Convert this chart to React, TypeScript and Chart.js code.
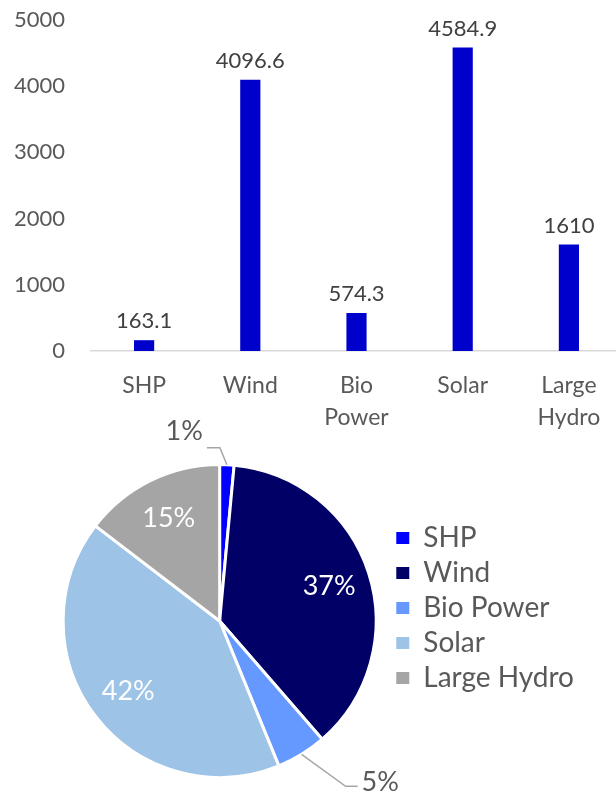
import React, { useEffect, useRef } from 'react';
import { Chart, registerables } from 'chart.js';

Chart.register(...registerables);

// ---- data ----
const categories = ['SHP', 'Wind', 'Bio Power', 'Solar', 'Large Hydro'];
const axisLabels = [['SHP'], ['Wind'], ['Bio', 'Power'], ['Solar'], ['Large', 'Hydro']];
const capacity = [163.1, 4096.6, 574.3, 4584.9, 1610];
const yTicks = [0, 1000, 2000, 3000, 4000, 5000];
const pieColors = ['#0000FF', '#000066', '#6699FF', '#9DC3E6', '#A5A5A5'];
const barColor = '#0000CC';

const FONT = 'Lato';

// leader settings for labels drawn outside the pie: [elbow dx, elbow dy, horizontal length, text dy]
const outsideLeaders: Record<string, [number, number, number, number]> = {
  'SHP': [-7, -17, -13, -16],
  'Bio Power': [44, 32, 12, -4],
};

const barLabels = {
  id: 'barLabels',
  afterDatasetsDraw(chart: any) {
    const ctx = chart.ctx;
    const meta = chart.getDatasetMeta(0);
    ctx.save();
    ctx.font = `22px ${FONT}`;
    ctx.fillStyle = '#404040';
    ctx.textAlign = 'center';
    ctx.textBaseline = 'middle';
    meta.data.forEach((bar: any, i: number) => {
      ctx.fillText(String(capacity[i]), bar.x, bar.y - 19);
    });
    ctx.restore();
  },
};

const pieLabels = {
  id: 'pieLabels',
  afterDatasetsDraw(chart: any) {
    const ctx = chart.ctx;
    const meta = chart.getDatasetMeta(0);
    const total = capacity.reduce((a, b) => a + b, 0);
    ctx.save();
    ctx.font = `27px ${FONT}`;
    meta.data.forEach((arc: any, i: number) => {
      const p = arc.getProps(['x', 'y', 'startAngle', 'endAngle', 'outerRadius'], true);
      const mid = (p.startAngle + p.endAngle) / 2;
      const txt = Math.round((capacity[i] / total) * 100) + '%';
      const lead = outsideLeaders[categories[i]];
      if (!lead) {
        const r = p.outerRadius * 0.735;
        ctx.fillStyle = '#FFFFFF';
        ctx.textAlign = 'center';
        ctx.textBaseline = 'middle';
        ctx.fillText(txt, p.x + Math.cos(mid) * r, p.y + Math.sin(mid) * r);
      } else {
        const sx = p.x + Math.cos(mid) * p.outerRadius;
        const sy = p.y + Math.sin(mid) * p.outerRadius;
        const ex = sx + lead[0];
        const ey = sy + lead[1];
        const hx = ex + lead[2];
        ctx.strokeStyle = '#A6A6A6';
        ctx.lineWidth = 1.5;
        ctx.beginPath();
        ctx.moveTo(sx, sy);
        ctx.lineTo(ex, ey);
        ctx.lineTo(hx, ey);
        ctx.stroke();
        ctx.fillStyle = '#595959';
        ctx.textBaseline = 'middle';
        if (lead[2] < 0) {
          ctx.textAlign = 'right';
          ctx.fillText(txt, hx - 4, ey + lead[3]);
        } else {
          ctx.textAlign = 'left';
          ctx.fillText(txt, hx + 4, ey + lead[3]);
        }
      }
    });
    ctx.restore();
  },
};

const legendShift = {
  id: 'legendShift',
  afterLayout(chart: any) {
    const lg = chart.legend;
    if (lg) {
      lg.top -= 13;
      lg.bottom -= 13;
    }
  },
};

export default function App() {
  const barRef = useRef<HTMLCanvasElement>(null);
  const pieRef = useRef<HTMLCanvasElement>(null);

  useEffect(() => {
    const bar = new Chart(barRef.current as HTMLCanvasElement, {
      type: 'bar',
      data: {
        labels: axisLabels as any,
        datasets: [
          {
            data: capacity,
            backgroundColor: barColor,
            categoryPercentage: 1,
            barPercentage: 0.19,
          },
        ],
      },
      options: {
        animation: false,
        responsive: false,
        layout: { padding: { top: 20, left: 0, right: 0, bottom: 0 } },
        plugins: { legend: { display: false }, tooltip: { enabled: false } },
        scales: {
          x: {
            grid: { display: false, drawTicks: false },
            border: { display: true, color: '#D9D9D9', width: 1.5 },
            ticks: {
              color: '#595959',
              font: { family: FONT, size: 23, lineHeight: 1.39 },
              padding: 19,
              maxRotation: 0,
              autoSkip: false,
            },
            afterFit: (s: any) => {
              s.height = 83;
              s.paddingLeft = 0;
              s.paddingRight = 0;
            },
          },
          y: {
            min: yTicks[0],
            max: yTicks[yTicks.length - 1],
            afterBuildTicks: (s: any) => {
              s.ticks = yTicks.map((v) => ({ value: v }));
            },
            grid: { display: false, drawTicks: false },
            border: { display: false },
            ticks: {
              color: '#595959',
              font: { family: FONT, size: 22 },
              padding: 26,
              callback: (v: any) => String(v),
            },
            afterFit: (s: any) => {
              s.width = 91;
              s.paddingTop = 0;
              s.paddingBottom = 0;
            },
          },
        },
      },
      plugins: [barLabels],
    });

    const pie = new Chart(pieRef.current as HTMLCanvasElement, {
      type: 'pie',
      data: {
        labels: categories,
        datasets: [
          {
            data: capacity,
            backgroundColor: pieColors,
            borderColor: '#FFFFFF',
            borderWidth: 3,
          },
        ],
      },
      options: {
        animation: false,
        responsive: false,
        layout: { padding: { top: 63, bottom: 15, left: 50, right: 32 } },
        plugins: {
          tooltip: { enabled: false },
          legend: {
            position: 'right',
            labels: {
              boxWidth: 13,
              boxHeight: 12,
              padding: 7,
              color: '#595959',
              font: { family: FONT, size: 28 },
              generateLabels: (chart: any) => {
                const items = (Chart as any).overrides.pie.plugins.legend.labels.generateLabels(chart);
                items.forEach((it: any) => {
                  it.lineWidth = 0;
                  it.strokeStyle = 'rgba(0,0,0,0)';
                });
                return items;
              },
            },
          },
        },
      },
      plugins: [pieLabels, legendShift],
    });

    return () => {
      bar.destroy();
      pie.destroy();
    };
  }, []);

  return (
    <div
      style={{
        position: 'absolute',
        left: 0,
        top: 0,
        width: 616,
        height: 794,
        overflow: 'hidden',
        background: '#FFFFFF',
      }}
    >
      <canvas ref={pieRef} width={616} height={394} style={{ position: 'absolute', left: 0, top: 400 }} />
      <canvas ref={barRef} width={622} height={434} style={{ position: 'absolute', left: 0, top: 0 }} />
    </div>
  );
}
